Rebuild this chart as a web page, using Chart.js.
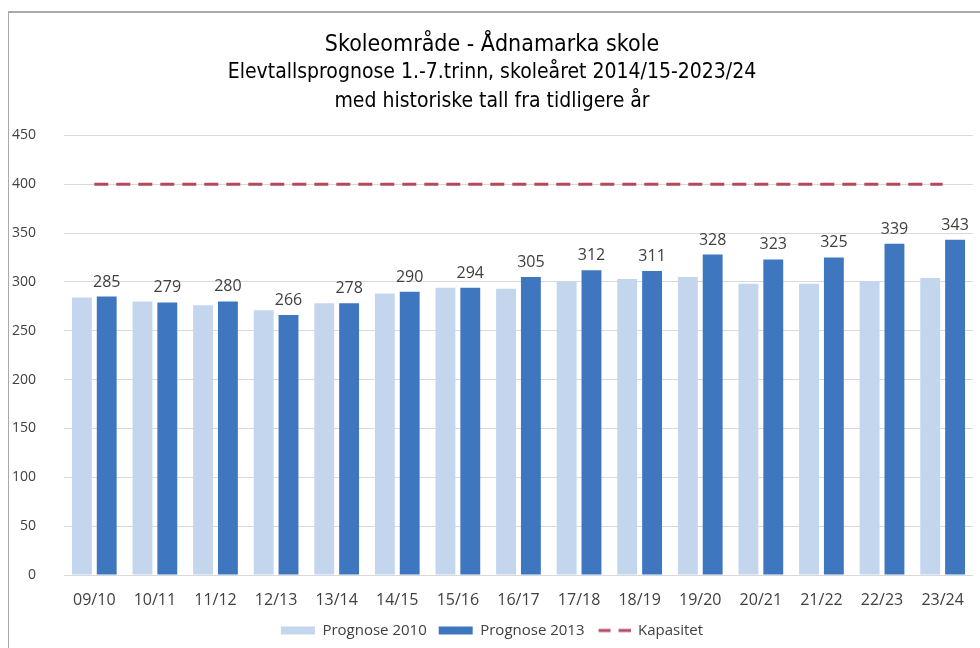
<!DOCTYPE html>
<html>
<head>
<meta charset="utf-8">
<script src="https://cdn.jsdelivr.net/npm/chart.js@4.4.0/dist/chart.umd.min.js"></script>
<style>
  body { margin: 0; background: #fff; }
  #wrap { position: relative; width: 980px; height: 648px; }
  #frame { position: absolute; left: 8px; top: 11px; right: 0; bottom: 0;
           border-top: 2px solid #a9a9a9; border-left: 1px solid #a9a9a9; }
  canvas { position: absolute; left: 0; top: 0; }
</style>
</head>
<body>
<div id="wrap">
  <div id="frame"></div>
  <canvas id="chart" width="980" height="648"></canvas>
</div>
<script>
const years = ['09/10', '10/11', '11/12', '12/13', '13/14', '14/15', '15/16', '16/17',
  '17/18', '18/19', '19/20', '20/21', '21/22', '22/23', '23/24'];
const prognose2010 = [284, 280, 276, 271, 278, 288, 294, 293, 300, 303, 305, 298, 298, 301, 304];
const prognose2013 = [285, 279, 280, 266, 278, 290, 294, 305, 312, 311, 328, 323, 325, 339, 343];
const kapasitet = [400, 400, 400, 400, 400, 400, 400, 400, 400, 400, 400, 400, 400, 400, 400];
const yTicks = [0, 50, 100, 150, 200, 250, 300, 350, 400, 450];

const dashColor = '#b4485f';
const textFont = '"Liberation Sans Narrow", "DejaVu Sans Condensed", sans-serif';
const tickFont = '"Open Sans", sans-serif';

// two short dashes for the Kapasitet legend entry
const dashIcon = document.createElement('canvas');
dashIcon.width = 34;
dashIcon.height = 8;
(function () {
  const c = dashIcon.getContext('2d');
  c.strokeStyle = dashColor;
  c.lineWidth = 3;
  c.setLineDash([12, 8]);
  c.beginPath();
  c.moveTo(2, 4);
  c.lineTo(34, 4);
  c.stroke();
})();

// value labels above the Prognose 2013 bars
const barLabels = {
  id: 'barLabels',
  afterDatasetsDraw(chart) {
    const ctx = chart.ctx;
    const meta = chart.getDatasetMeta(1);
    ctx.save();
    ctx.font = '16px ' + tickFont;
    ctx.fillStyle = '#404040';
    ctx.textAlign = 'center';
    ctx.textBaseline = 'alphabetic';
    meta.data.forEach((bar, i) => {
      ctx.fillText(prognose2013[i], bar.x, bar.y - 10);
    });
    ctx.restore();
  }
};

new Chart(document.getElementById('chart'), {
  type: 'bar',
  data: {
    labels: years,
    datasets: [
      {
        label: 'Prognose 2010',
        data: prognose2010,
        backgroundColor: '#c3d6ee',
        borderWidth: 0,
        pointStyle: 'rect',
        categoryPercentage: 0.82,
        barPercentage: 0.8
      },
      {
        label: 'Prognose 2013',
        data: prognose2013,
        backgroundColor: '#3e77c0',
        borderWidth: 0,
        pointStyle: 'rect',
        categoryPercentage: 0.82,
        barPercentage: 0.8
      },
      {
        type: 'line',
        label: 'Kapasitet',
        data: kapasitet,
        borderColor: dashColor,
        backgroundColor: dashColor,
        borderWidth: 3,
        borderDash: [14, 8],
        pointRadius: 0,
        pointStyle: dashIcon,
        fill: false
      }
    ]
  },
  options: {
    responsive: false,
    animation: false,
    layout: { padding: { top: 12, left: 8, right: 4, bottom: 0 } },
    plugins: {
      title: {
        display: true,
        text: 'Skoleområde - Ådnamarka skole',
        color: '#000',
        font: { family: textFont, size: 23, weight: 'normal' },
        padding: { top: 19, bottom: 0 }
      },
      subtitle: {
        display: true,
        text: ['Elevtallsprognose 1.-7.trinn, skoleåret 2014/15-2023/24', 'med historiske tall fra tidligere år'],
        color: '#000',
        font: { family: textFont, size: 21, weight: 'normal', lineHeight: 1.35 },
        padding: { top: 0, bottom: 20 }
      },
      legend: {
        position: 'bottom',
        labels: {
          usePointStyle: true,
          pointStyleWidth: 34,
          boxHeight: 8,
          color: '#404040',
          font: { family: tickFont, size: 15 },
          padding: 12
        }
      },
      tooltip: { enabled: false }
    },
    scales: {
      x: {
        afterFit(scale) { scale.height = 36; },
        grid: { display: false, drawTicks: false },
        border: { color: '#d9d9d9' },
        ticks: { color: '#404040', font: { family: tickFont, size: 16 }, padding: 16 }
      },
      y: {
        min: 0,
        max: 450,
        afterFit(scale) { scale.width = 56; },
        afterBuildTicks(scale) { scale.ticks = yTicks.map(v => ({ value: v })); },
        grid: { color: '#d9d9d9', drawTicks: false },
        border: { display: false },
        ticks: { color: '#404040', font: { family: tickFont, size: 14 }, padding: 28 }
      }
    }
  },
  plugins: [barLabels]
});
</script>
</body>
</html>
